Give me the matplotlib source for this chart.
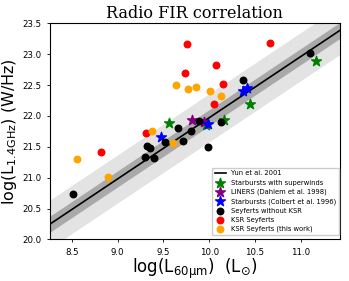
import numpy as np
import matplotlib
matplotlib.use("Agg")
import matplotlib.pyplot as plt

# Data
sb_wind_x = [9.56, 9.97, 10.166, 10.446, 11.17]
sb_wind_y = [21.89, 21.85, 21.94, 22.20, 22.89]
liner_x = [9.815, 9.94]
liner_y = [21.93, 21.90]
sb_colbert_x = [9.478, 9.99, 10.373, 10.41]
sb_colbert_y = [21.66, 21.875, 22.40, 22.45]
sey_x = [8.511, 9.297, 9.398, 9.32, 9.35, 9.514, 9.66, 9.713, 9.80, 9.895, 9.985, 10.13, 10.373, 11.098]
sey_y = [20.74, 21.33, 21.32, 21.52, 21.48, 21.57, 21.81, 21.60, 21.76, 21.91, 21.50, 21.90, 22.58, 23.02]
ksr_x = [8.815, 9.308, 9.739, 9.761, 10.058, 10.076, 10.155, 10.663]
ksr_y = [21.41, 21.72, 22.70, 23.17, 22.20, 22.83, 22.52, 23.185]
ksr_tw_x = [8.561, 8.898, 9.38, 9.605, 9.641, 9.767, 9.854, 10.011, 10.13]
ksr_tw_y = [21.31, 21.01, 21.75, 21.56, 22.50, 22.44, 22.47, 22.41, 22.33]

slope = 0.99
intercept = 12.07
band_inner = 0.13
band_outer = 0.39

fig = plt.figure(figsize=(3.49, 2.81), dpi=100)
ax = fig.add_axes([0.143, 0.148, 0.831, 0.769])

xl = np.linspace(8.26, 11.43, 100)
yl = slope * xl + intercept
ax.fill_between(xl, yl - band_outer, yl + band_outer, color='#e3e3e3', lw=0, zorder=0)
ax.fill_between(xl, yl - band_inner, yl + band_inner, color='#a9a9a9', lw=0, zorder=1)
ax.plot(xl, yl, color='black', lw=1.2, label='Yun et al. 2001', zorder=2)

ax.scatter(sb_wind_x, sb_wind_y, marker='*', s=55, color='green', label='Starbursts with superwinds', zorder=3)
ax.scatter(liner_x, liner_y, marker='*', s=55, color='purple', label='LINERS (Dahlem et al. 1998)', zorder=3)
ax.scatter(sb_colbert_x, sb_colbert_y, marker='*', s=55, color='blue', label='Starbursts (Colbert et al. 1996)', zorder=3)
ax.scatter(sey_x, sey_y, marker='o', s=22, color='black', label='Seyferts without KSR', zorder=3)
ax.scatter(ksr_x, ksr_y, marker='o', s=22, color='red', label='KSR Seyferts', zorder=3)
ax.scatter(ksr_tw_x, ksr_tw_y, marker='o', s=22, color='orange', label='KSR Seyferts (this work)', zorder=3)

ax.set_xlim(8.26, 11.43)
ax.set_ylim(20.0, 23.5)
ax.set_xticks([8.5, 9.0, 9.5, 10.0, 10.5, 11.0])
ax.set_yticks([20.0, 20.5, 21.0, 21.5, 22.0, 22.5, 23.0, 23.5])
ax.tick_params(labelsize=6.2, length=2.5, width=0.6)
for s in ax.spines.values():
    s.set_linewidth(0.8)

ax.set_title('Radio FIR correlation', family='DejaVu Serif', fontsize=11.5, pad=4)
ax.set_xlabel(r'log(L$_{\mathrm{60\mu m}}$)  (L$_{\odot}$)', fontsize=12, labelpad=0)
ax.set_ylabel(r'log(L$_{\mathrm{1.4GHz}}$) (W/Hz)', fontsize=11.5)
ax.yaxis.set_label_coords(-0.107, 0.5)

ax.legend(loc='lower right', bbox_to_anchor=(0.997, 0.02), fontsize=4.9, frameon=True, fancybox=True,
          borderpad=0.4, labelspacing=0.45, handlelength=1.6, handletextpad=0.8,
          edgecolor='#cccccc', framealpha=1.0, borderaxespad=0.0)

fig.savefig('out.png', dpi=100)
